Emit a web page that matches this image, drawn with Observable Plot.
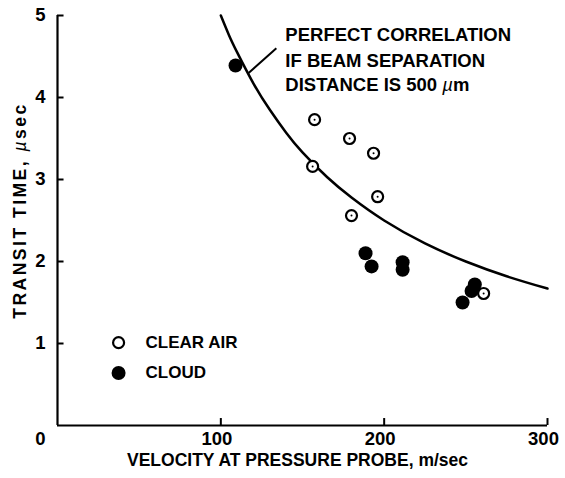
<!DOCTYPE html>
<html><head><meta charset="utf-8">
<script src="https://cdn.jsdelivr.net/npm/d3@7"></script>
<script src="https://cdn.jsdelivr.net/npm/@observablehq/plot@0.6"></script>
<style>body{margin:0;background:#fff} #chart{width:565px;height:478px}</style>
</head><body><div id="chart"></div>
<script>
// Data
const clearAirV = [157.4, 178.8, 193.5, 156.2, 196.0, 180.0, 260.9];
const clearAirT = [3.73, 3.50, 3.32, 3.16, 2.79, 2.56, 1.61];
const cloudV = [109, 188.6, 192.3, 211.3, 211.3, 255.5, 253.5, 248];
const cloudT = [4.39, 2.10, 1.94, 1.99, 1.90, 1.72, 1.64, 1.50];
const curveV = [100, 105, 110, 120, 130, 140, 150, 165, 180, 200, 225, 250, 275, 300];
const curveT = [5.00, 4.76, 4.55, 4.17, 3.85, 3.57, 3.33, 3.03, 2.78, 2.50, 2.22, 2.00, 1.82, 1.67];
const leaderV = [117, 134];
const leaderT = [4.30, 4.60];
const xTicks = [100, 200, 300];
const yTicks = [1, 2, 3, 4, 5];
const annotationLines = ["PERFECT CORRELATION", "IF BEAM SEPARATION", "DISTANCE IS 500 µm"];
const annotationT = [4.76, 4.45, 4.15];
const annotationV = 139.5;
const legendLabels = ["CLEAR AIR", "CLOUD"];
const legendT = [1.01, 0.64];
const legendV = 37.4;
const xTitle = "VELOCITY AT PRESSURE PROBE, m/sec";
const yTitle = "TRANSIT TIME, µsec";

const clearAir = clearAirV.map((v, i) => ({v, t: clearAirT[i]}));
const cloud = cloudV.map((v, i) => ({v, t: cloudT[i]}));
const curve = curveV.map((v, i) => ({v, t: curveT[i]}));
const annotation = annotationLines.map((s, i) => ({s, t: annotationT[i]}));
const legend = legendLabels.map((s, i) => ({s, t: legendT[i], open: i === 0}));

const font = "'Liberation Sans', Arial, Helvetica, sans-serif";

const chart = Plot.plot({
  width: 565, height: 478,
  marginLeft: 57, marginRight: 18, marginTop: 15, marginBottom: 53,
  x: {domain: [0, 300], axis: null},
  y: {domain: [0, 5], axis: null},
  style: {fontFamily: font, fontWeight: "bold", color: "#000", background: "#fff"},
  marks: [
    Plot.ruleX([0], {y1: 0, y2: 5, strokeWidth: 2.2}),
    Plot.ruleY([0], {x1: 0, x2: 300, strokeWidth: 2.2}),
    Plot.ruleY(yTicks, {x1: 0, x2: 4, strokeWidth: 2}),
    Plot.ruleX(xTicks, {y1: 0, y2: 0.085, strokeWidth: 2}),
    Plot.text(yTicks, {x: 0, y: d => d, dx: -12, textAnchor: "end", fontSize: 18.5, fontWeight: "bold"}),
    Plot.text(xTicks, {x: d => d, y: 0, dy: 14, dx: -4, fontSize: 18.5, fontWeight: "bold"}),
    Plot.text([0], {x: 0, y: 0, dx: -17, dy: 14, fontSize: 18.5, fontWeight: "bold"}),
    Plot.text([xTitle], {frameAnchor: "bottom", dx: -5, dy: 40, fontSize: 17.5, fontWeight: "bold"}),
    Plot.text([yTitle], {frameAnchor: "left", textAnchor: "middle", rotate: -90, dx: -37, dy: -10, fontSize: 17.5, fontWeight: "bold"}),
    Plot.line(curve, {x: "v", y: "t", curve: "natural", strokeWidth: 2.5}),
    Plot.link([0], {x1: leaderV[0], y1: leaderT[0], x2: leaderV[1], y2: leaderT[1], strokeWidth: 2}),
    Plot.text(annotation, {x: annotationV, y: "t", text: "s", textAnchor: "start", fontSize: 18.5, fontWeight: "bold"}),
    Plot.dot(clearAir, {x: "v", y: "t", r: 5.5, stroke: "black", strokeWidth: 2.2, fill: "white"}),
    Plot.dot(clearAir, {x: "v", y: "t", r: 1, fill: "black"}),
    Plot.dot(cloud, {x: "v", y: "t", r: 7, fill: "black"}),
    Plot.dot(legend.filter(d => d.open), {x: legendV, y: "t", r: 5.5, stroke: "black", strokeWidth: 2.2, fill: "white"}),
    Plot.dot(legend.filter(d => !d.open), {x: legendV, y: "t", r: 7, fill: "black"}),
    Plot.text(legend, {x: legendV, y: "t", text: "s", dx: 27, textAnchor: "start", fontSize: 17, fontWeight: "bold"})
  ]
});
document.getElementById("chart").appendChild(chart);

// italic µ and y-title spacing
d3.select(chart).selectAll("text").each(function() {
  const el = d3.select(this);
  const txt = this.textContent;
  if (txt === yTitle) el.style("letter-spacing", "2.5px");
  if (txt.includes("µ") && this.children.length === 0) {
    const [a, b] = txt.split("µ");
    el.text(null);
    el.append("tspan").text(a);
    el.append("tspan").attr("font-style", "italic").attr("font-weight", "normal").text("µ");
    el.append("tspan").text(b);
  }
});
</script>
</body></html>
